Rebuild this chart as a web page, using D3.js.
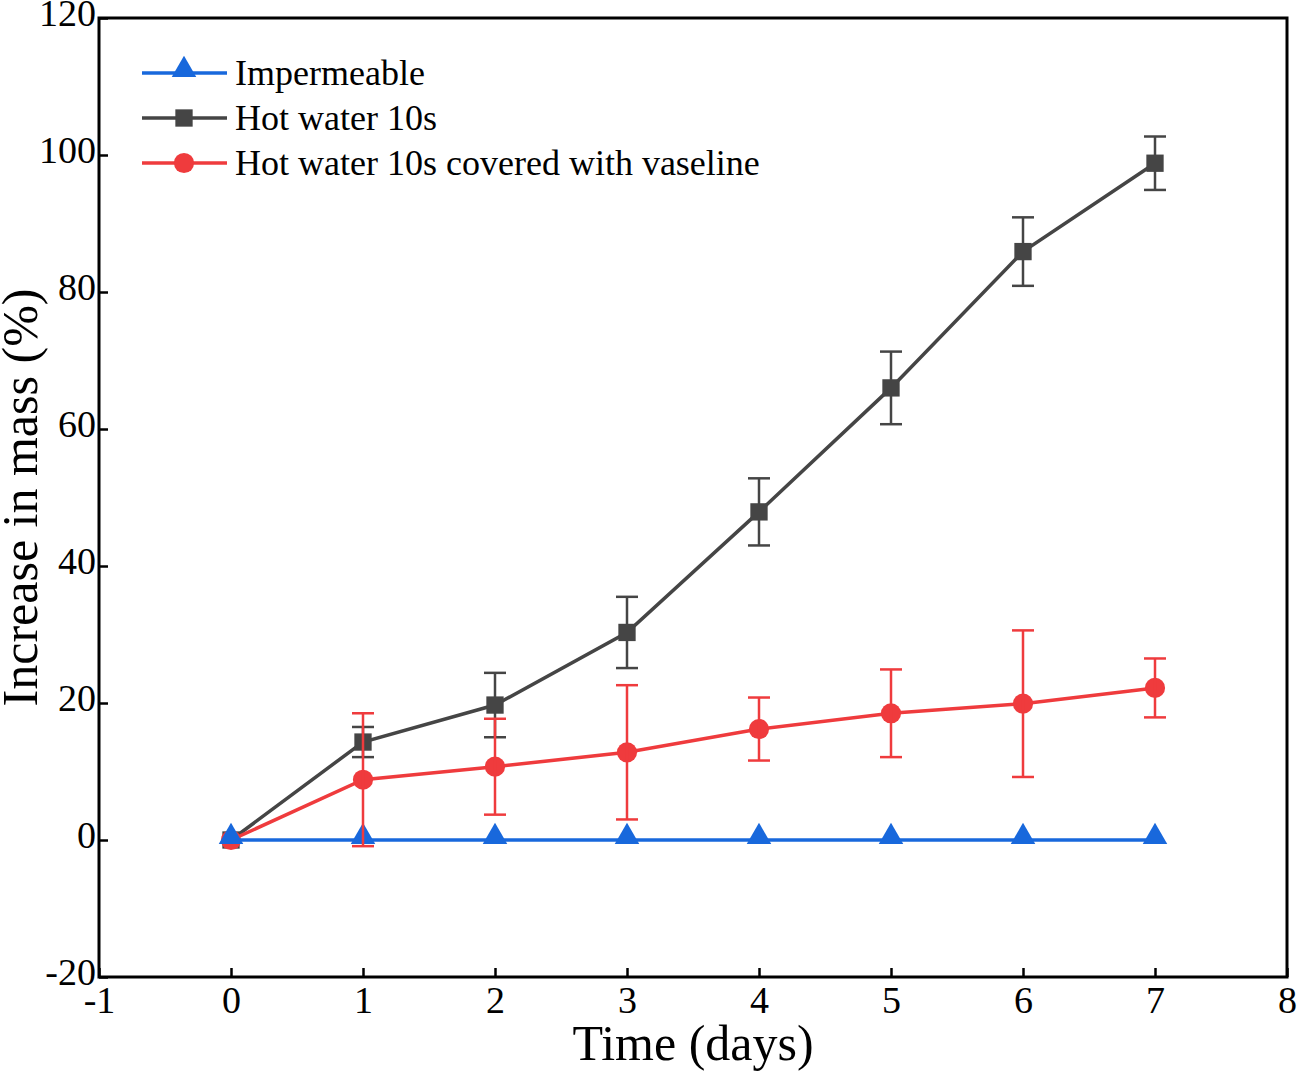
<!DOCTYPE html>
<html>
<head>
<meta charset="utf-8">
<script src="https://cdn.jsdelivr.net/npm/d3@7"></script>
<style>
  body { margin: 0; background: #fff; }
  text { font-family: "Liberation Serif", "Times New Roman", serif; fill: #000; }
</style>
</head>
<body>
<div id="chart"></div>
<script>
// data
var days = [0, 1, 2, 3, 4, 5, 6, 7];
var impermeable = [0, 0, 0, 0, 0, 0, 0, 0];
var hotWater = [0, 14.3, 19.7, 30.3, 47.9, 66.0, 85.9, 98.8];
var hotWaterErr = [0, 2.2, 4.7, 5.2, 4.9, 5.3, 5.0, 3.9];
var vaseline = [0, 8.8, 10.7, 12.8, 16.2, 18.5, 19.9, 22.2];
var vaselineErr = [0, 9.7, 7.0, 9.8, 4.6, 6.4, 10.7, 4.3];
var xTicks = [-1, 0, 1, 2, 3, 4, 5, 6, 7, 8];
var yTicks = [-20, 0, 20, 40, 60, 80, 100, 120];

var width = 1299, height = 1072;
var margin = { left: 99, right: 12, top: 18, bottom: 95 };

var svg = d3.select("#chart").append("svg")
    .attr("width", width)
    .attr("height", height);

var xScale = d3.scaleLinear().domain([-1, 8]).range([margin.left, width - margin.right]);
var yScale = d3.scaleLinear().domain([-20, 120]).range([height - margin.bottom, margin.top]);

// frame
svg.append("rect")
    .attr("x", xScale(-1)).attr("y", yScale(120))
    .attr("width", xScale(8) - xScale(-1))
    .attr("height", yScale(-20) - yScale(120))
    .attr("fill", "none").attr("stroke", "#000").attr("stroke-width", 3);

// plain hyphen for negatives, like the original
var fmt = function (d) { return String(d); };

// x axis, ticks pointing inward
var xAxis = svg.append("g")
    .attr("transform", "translate(0," + yScale(-20) + ")")
    .call(d3.axisBottom(xScale).tickValues(xTicks).tickFormat(fmt)
        .tickSizeInner(-9).tickSizeOuter(0).tickPadding(9));
xAxis.select(".domain").remove();
xAxis.selectAll("line").attr("stroke", "#000").attr("stroke-width", 2.5);
xAxis.selectAll("text").attr("font-size", 38).attr("font-family", "Liberation Serif")
    .attr("dy", "0.72em");

// y axis
var yAxis = svg.append("g")
    .attr("transform", "translate(" + xScale(-1) + ",0)")
    .call(d3.axisLeft(yScale).tickValues(yTicks).tickFormat(fmt)
        .tickSizeInner(-9).tickSizeOuter(0).tickPadding(3));
yAxis.select(".domain").remove();
yAxis.selectAll("line").attr("stroke", "#000").attr("stroke-width", 2.5);
yAxis.selectAll("text").attr("font-size", 38).attr("font-family", "Liberation Serif")
    .attr("dy", "0.2em");

// axis titles
svg.append("text")
    .attr("x", (xScale(-1) + xScale(8)) / 2)
    .attr("y", 1060)
    .attr("text-anchor", "middle")
    .attr("font-size", 50)
    .text("Time (days)");

svg.append("text")
    .attr("transform", "translate(37," + yScale(50) + ") rotate(-90)")
    .attr("text-anchor", "middle")
    .attr("font-size", 50)
    .text("Increase in mass (%)");

var series = [
    { name: "Hot water 10s", values: hotWater, err: hotWaterErr, color: "#454545", shape: d3.symbolSquare, size: 300 },
    { name: "Hot water 10s covered with vaseline", values: vaseline, err: vaselineErr, color: "#ef3b3d", shape: d3.symbolCircle, size: 320 },
    { name: "Impermeable", values: impermeable, err: null, color: "#1868dc", shape: d3.symbolTriangle, size: 260 }
];

var line = d3.line()
    .x(function (d, i) { return xScale(days[i]); })
    .y(function (d) { return yScale(d); });

series.forEach(function (s) {
    svg.append("path")
        .datum(s.values)
        .attr("fill", "none")
        .attr("stroke", s.color)
        .attr("stroke-width", 3.5)
        .attr("d", line);

    svg.append("g").selectAll("path")
        .data(s.values)
        .enter().append("path")
        .attr("transform", function (d, i) {
            var dy = s.shape === d3.symbolTriangle ? -3 : 0;
            return "translate(" + xScale(days[i]) + "," + (yScale(d) + dy) + ")";
        })
        .attr("d", d3.symbol().type(s.shape).size(s.size))
        .attr("fill", s.color);
});

// error bars
series.forEach(function (s) {
    if (!s.err) return;
    var g = svg.append("g").attr("stroke", s.color).attr("stroke-width", 2.5);
    s.values.forEach(function (v, i) {
        if (s.err[i] === 0) return;
        var x = xScale(days[i]);
        var y1 = yScale(v + s.err[i]);
        var y2 = yScale(v - s.err[i]);
        g.append("line").attr("x1", x).attr("x2", x).attr("y1", y1).attr("y2", y2);
        g.append("line").attr("x1", x - 11).attr("x2", x + 11).attr("y1", y1).attr("y2", y1);
        g.append("line").attr("x1", x - 11).attr("x2", x + 11).attr("y1", y2).attr("y2", y2);
    });
});

// legend
var legendItems = [series[2], series[0], series[1]];
var legend = svg.append("g");
legendItems.forEach(function (s, i) {
    var y = 73 + i * 45;
    legend.append("line")
        .attr("x1", 142).attr("x2", 227).attr("y1", y).attr("y2", y)
        .attr("stroke", s.color).attr("stroke-width", 3.5);
    legend.append("path")
        .attr("transform", "translate(184," + (s.shape === d3.symbolTriangle ? y - 3 : y) + ")")
        .attr("d", d3.symbol().type(s.shape).size(s.size))
        .attr("fill", s.color);
    legend.append("text")
        .attr("x", 235).attr("y", y + 12)
        .attr("font-size", 36)
        .text(s.name);
});
</script>
</body>
</html>
